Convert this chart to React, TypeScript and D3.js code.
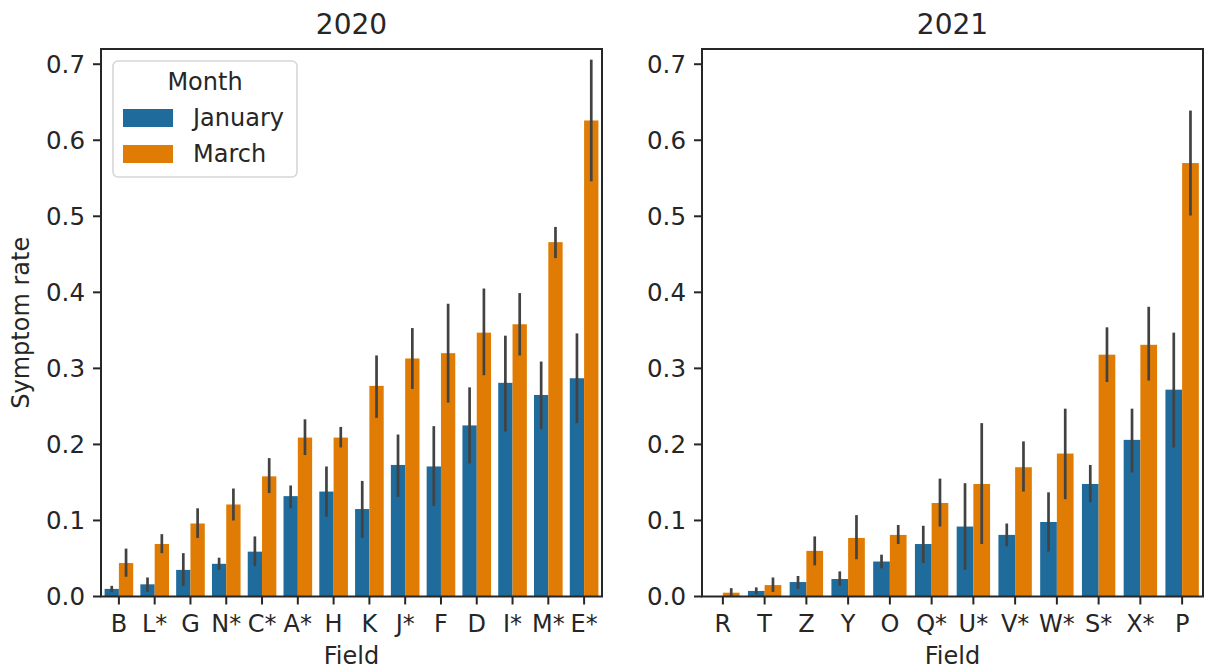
import React from "react";
import * as d3 from "d3";

const months = ["January", "March"];
const colors = ["#1f6b9c", "#e07b03"];

const fields2020 = ["B", "L*", "G", "N*", "C*", "A*", "H", "K", "J*", "F", "D", "I*", "M*", "E*"];
const jan2020 = [0.010, 0.016, 0.035, 0.043, 0.059, 0.132, 0.138, 0.115, 0.173, 0.171, 0.225, 0.281, 0.265, 0.287];
const janLo2020 = [0.006, 0.006, 0.014, 0.035, 0.040, 0.116, 0.105, 0.077, 0.131, 0.119, 0.175, 0.217, 0.220, 0.228];
const janHi2020 = [0.014, 0.025, 0.057, 0.051, 0.079, 0.146, 0.171, 0.152, 0.213, 0.224, 0.275, 0.343, 0.309, 0.346];
const mar2020 = [0.044, 0.069, 0.096, 0.121, 0.158, 0.209, 0.209, 0.277, 0.313, 0.320, 0.347, 0.358, 0.466, 0.626];
const marLo2020 = [0.026, 0.057, 0.077, 0.100, 0.136, 0.186, 0.196, 0.235, 0.273, 0.255, 0.291, 0.317, 0.445, 0.546];
const marHi2020 = [0.063, 0.082, 0.116, 0.142, 0.182, 0.233, 0.223, 0.317, 0.353, 0.385, 0.405, 0.399, 0.486, 0.706];

const fields2021 = ["R", "T", "Z", "Y", "O", "Q*", "U*", "V*", "W*", "S*", "X*", "P"];
const jan2021 = [0.0, 0.0073, 0.019, 0.023, 0.046, 0.069, 0.092, 0.081, 0.098, 0.148, 0.206, 0.272];
const janLo2021 = [0.0, 0.003, 0.010, 0.014, 0.037, 0.044, 0.035, 0.066, 0.059, 0.124, 0.163, 0.196];
const janHi2021 = [0.0, 0.012, 0.027, 0.033, 0.055, 0.093, 0.149, 0.096, 0.137, 0.173, 0.247, 0.347];
const mar2021 = [0.005, 0.015, 0.060, 0.077, 0.081, 0.123, 0.148, 0.170, 0.188, 0.318, 0.331, 0.570];
const marLo2021 = [0.0, 0.006, 0.041, 0.049, 0.069, 0.092, 0.069, 0.138, 0.128, 0.282, 0.284, 0.501];
const marHi2021 = [0.011, 0.025, 0.079, 0.107, 0.094, 0.155, 0.228, 0.204, 0.247, 0.354, 0.381, 0.639];

const yTicks = [0, 0.1, 0.2, 0.3, 0.4, 0.5, 0.6, 0.7];

const FONT = "DejaVu Sans";
const INK = "#262626";
const top = 49;
const bottom = 596.5;

type Panel = {
  title: string;
  left: number;
  right: number;
  fields: string[];
  vals: number[][];
  lo: number[][];
  hi: number[][];
  legend: boolean;
  ylabel: boolean;
};

const panels: Panel[] = [
  {
    title: "2020", left: 101, right: 602, fields: fields2020,
    vals: [jan2020, mar2020], lo: [janLo2020, marLo2020], hi: [janHi2020, marHi2020],
    legend: true, ylabel: true,
  },
  {
    title: "2021", left: 702, right: 1203, fields: fields2021,
    vals: [jan2021, mar2021], lo: [janLo2021, marLo2021], hi: [janHi2021, marHi2021],
    legend: false, ylabel: false,
  },
];

const y = d3.scaleLinear().domain([0, 0.72]).range([bottom, top]);
const fmt = d3.format(".1f");

function PanelView({ p }: { p: Panel }) {
  const x0 = d3.scaleBand<string>().domain(p.fields).range([p.left, p.right]).paddingInner(0.2).paddingOuter(0.1);
  const x1 = d3.scaleBand<string>().domain(months).range([0, x0.bandwidth()]);
  const cx = (f: string) => (x0(f) || 0) + x0.bandwidth() / 2;
  const mid = (p.left + p.right) / 2;
  return (
    <g>
      {p.fields.map((f, i) =>
        months.map((m, k) => {
          const v = p.vals[k][i];
          const bx = (x0(f) || 0) + (x1(m) || 0);
          return (
            <g key={f + m}>
              {v > 0 && (
                <rect x={bx} y={y(v)} width={x1.bandwidth()} height={y(0) - y(v)} fill={colors[k]} />
              )}
              {p.hi[k][i] > p.lo[k][i] && (
                <line
                  x1={bx + x1.bandwidth() / 2}
                  x2={bx + x1.bandwidth() / 2}
                  y1={y(p.lo[k][i])}
                  y2={y(p.hi[k][i])}
                  stroke="#424242"
                  strokeWidth={2.7}
                />
              )}
            </g>
          );
        })
      )}
      <rect x={p.left} y={top} width={p.right - p.left} height={bottom - top} fill="none" stroke={INK} strokeWidth={2} />
      {yTicks.map((t) => (
        <g key={t}>
          <line x1={p.left - 8} x2={p.left} y1={y(t)} y2={y(t)} stroke={INK} strokeWidth={2} />
          <text x={p.left - 16} y={y(t)} dy="0.36em" textAnchor="end" fontSize={24.5} fill={INK}>
            {fmt(t)}
          </text>
        </g>
      ))}
      {p.fields.map((f) => (
        <g key={f}>
          <line x1={cx(f)} x2={cx(f)} y1={bottom} y2={bottom + 8} stroke={INK} strokeWidth={2} />
          <text x={cx(f)} y={632} textAnchor="middle" fontSize={24} fill={INK}>
            {f}
          </text>
        </g>
      ))}
      <text x={mid} y={664} textAnchor="middle" fontSize={24} fill={INK}>Field</text>
      <text x={mid} y={34} textAnchor="middle" fontSize={28} fill={INK}>{p.title}</text>
      {p.ylabel && (
        <text transform={`translate(29,${(top + bottom) / 2}) rotate(-90)`} textAnchor="middle" fontSize={24} fill={INK}>
          Symptom rate
        </text>
      )}
      {p.legend && (
        <g>
          <rect x={113} y={61} width={184} height={116} rx={5} fill="#fff" fillOpacity={0.8} stroke="#d6d6d6" strokeWidth={1.6} />
          <text x={205} y={90} textAnchor="middle" fontSize={24} fill={INK}>Month</text>
          {months.map((m, k) => (
            <g key={m}>
              <rect x={123} y={109 + k * 36} width={50} height={18} fill={colors[k]} />
              <text x={193} y={126 + k * 36} fontSize={24} fill={INK}>{m}</text>
            </g>
          ))}
        </g>
      )}
    </g>
  );
}

export default function App() {
  return (
    <svg width={1207} height={670} style={{ position: "absolute", left: 0, top: 0, background: "#fff" }} fontFamily={FONT}>
      <rect width={1207} height={670} fill="#fff" />
      {panels.map((p) => (
        <PanelView key={p.title} p={p} />
      ))}
    </svg>
  );
}
